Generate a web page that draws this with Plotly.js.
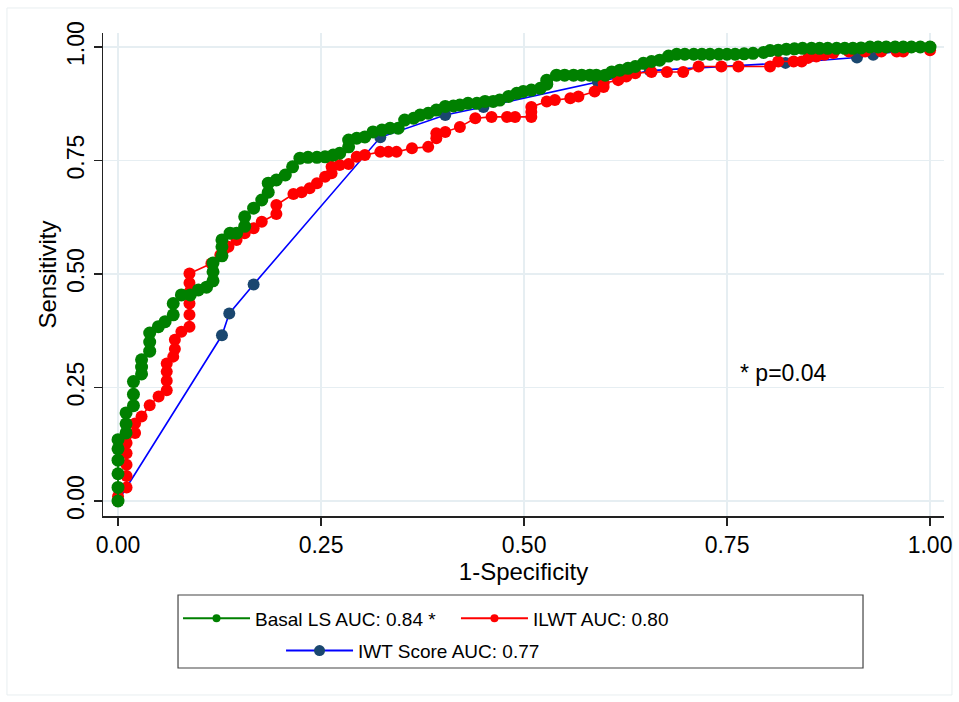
<!DOCTYPE html>
<html><head><meta charset="utf-8">
<script src="https://cdn.plot.ly/plotly-3.0.1.min.js"></script>
<style>html,body{margin:0;padding:0;background:#fff;} #chart{width:959px;height:702px;}</style>
</head><body><div id="chart"></div>
<script>
// Basal LS (green)
const basalX = [0,0,0,0,0,0,0.0099,0.0099,0.0099,0.019,0.019,0.019,0.029,0.029,0.029,0.039,0.039,0.039,0.0497,0.058,0.068,0.068,0.078,0.089,0.099,0.109,0.117,0.117,0.117,0.128,0.128,0.128,0.138,0.146,0.156,0.156,0.167,0.177,0.185,0.185,0.195,0.206,0.215,0.224,0.234,0.245,0.255,0.265,0.273,0.284,0.284,0.294,0.304,0.314,0.325,0.335,0.345,0.353,0.364,0.372,0.382,0.392,0.403,0.413,0.421,0.431,0.442,0.452,0.462,0.47,0.481,0.491,0.499,0.509,0.52,0.528,0.528,0.54,0.55,0.561,0.571,0.581,0.589,0.6,0.608,0.618,0.628,0.637,0.647,0.657,0.667,0.678,0.688,0.698,0.709,0.719,0.729,0.74,0.75,0.76,0.771,0.782,0.795,0.803,0.813,0.823,0.833,0.843,0.854,0.864,0.874,0.885,0.895,0.905,0.915,0.926,0.936,0.946,0.957,0.967,0.977,0.988,1.0];
const basalY = [0,0.03,0.06,0.09,0.115,0.135,0.15,0.17,0.194,0.21,0.235,0.263,0.28,0.295,0.311,0.33,0.35,0.37,0.384,0.395,0.41,0.435,0.454,0.454,0.465,0.471,0.485,0.505,0.524,0.54,0.56,0.575,0.59,0.59,0.605,0.626,0.645,0.663,0.68,0.70,0.707,0.718,0.736,0.755,0.757,0.757,0.758,0.762,0.766,0.78,0.795,0.799,0.802,0.813,0.817,0.821,0.821,0.839,0.843,0.85,0.854,0.861,0.869,0.87,0.872,0.876,0.876,0.88,0.88,0.883,0.891,0.898,0.902,0.905,0.909,0.918,0.927,0.938,0.938,0.938,0.938,0.938,0.938,0.938,0.945,0.949,0.953,0.957,0.964,0.968,0.971,0.98,0.984,0.984,0.984,0.984,0.984,0.984,0.984,0.984,0.985,0.986,0.988,0.992,0.993,0.995,0.996,0.997,0.997,0.997,0.997,0.997,0.997,0.997,0.998,1.0,1.0,1.0,1.0,1.0,1.0,1.0,1.0];
// ILWT (red)
const ilwtX = [0,0,0.0105,0.0105,0.0105,0.0105,0.0105,0.021,0.021,0.029,0.039,0.05,0.06,0.06,0.06,0.06,0.068,0.07,0.07,0.078,0.088,0.088,0.088,0.088,0.088,0.088,0.115,0.126,0.13,0.136,0.146,0.156,0.167,0.177,0.195,0.195,0.216,0.226,0.236,0.245,0.255,0.263,0.263,0.273,0.284,0.294,0.304,0.323,0.333,0.343,0.362,0.382,0.392,0.392,0.403,0.421,0.44,0.46,0.479,0.489,0.509,0.509,0.509,0.528,0.538,0.557,0.567,0.587,0.598,0.598,0.616,0.626,0.637,0.657,0.676,0.696,0.715,0.743,0.764,0.803,0.813,0.832,0.842,0.85,0.86,0.87,0.881,0.9,0.92,0.94,0.959,0.967,1.0,1.0];
const ilwtY = [0,0.01,0.03,0.055,0.08,0.105,0.128,0.15,0.171,0.186,0.211,0.23,0.244,0.265,0.285,0.303,0.318,0.335,0.355,0.373,0.384,0.41,0.435,0.46,0.48,0.501,0.523,0.542,0.553,0.56,0.575,0.59,0.601,0.615,0.632,0.652,0.676,0.68,0.689,0.7,0.714,0.722,0.736,0.74,0.742,0.758,0.762,0.769,0.769,0.769,0.777,0.78,0.799,0.81,0.813,0.824,0.843,0.846,0.846,0.846,0.846,0.857,0.868,0.88,0.883,0.887,0.891,0.902,0.912,0.92,0.927,0.935,0.942,0.945,0.945,0.945,0.957,0.957,0.957,0.957,0.968,0.968,0.968,0.976,0.979,0.983,0.987,0.99,0.99,0.99,0.99,0.99,0.993,1.0];
// IWT Score (blue)
const iwtX = [0,0.128,0.137,0.167,0.323,0.403,0.45,0.591,0.655,0.822,0.91,0.93,1];
const iwtY = [0,0.365,0.413,0.477,0.801,0.85,0.868,0.923,0.948,0.965,0.977,0.983,1];

const tickVals = [0,0.25,0.5,0.75,1];
const tickText = ["0.00","0.25","0.50","0.75","1.00"];
const names = ["Basal LS AUC: 0.84 *","ILWT AUC: 0.80","IWT Score AUC: 0.77"];

const GREEN = "#008000", RED = "#ff0000", BLUE = "#0000ff", NAVY = "#1a476f";
const FONT = "Liberation Sans, Arial, Helvetica, sans-serif";

const traces = [
  {x: iwtX, y: iwtY, mode: "lines+markers", line: {color: BLUE, width: 1.6}, marker: {color: NAVY, size: 12}, showlegend: false, hoverinfo: "skip"},
  {x: ilwtX, y: ilwtY, mode: "lines+markers", line: {color: RED, width: 1.6}, marker: {color: RED, size: 12}, showlegend: false, hoverinfo: "skip"},
  {x: basalX, y: basalY, mode: "lines+markers", line: {color: GREEN, width: 1.8}, marker: {color: GREEN, size: 13}, showlegend: false, hoverinfo: "skip"},
  {x: [null], y: [null], name: names[0], mode: "lines+markers", line: {color: GREEN, width: 2}, marker: {color: GREEN, size: 8}, legend: "legend"},
  {x: [null], y: [null], name: names[1], mode: "lines+markers", line: {color: RED, width: 2}, marker: {color: RED, size: 8}, legend: "legend3"},
  {x: [null], y: [null], name: names[2], mode: "lines+markers", line: {color: BLUE, width: 2}, marker: {color: NAVY, size: 11}, legend: "legend2"}
];

const axisCommon = {
  tickvals: tickVals, ticktext: tickText, showgrid: true, gridcolor: "#e6eef2", gridwidth: 1.5,
  zeroline: false, showline: true, linecolor: "#222", linewidth: 1.5,
  ticks: "outside", ticklen: 8, tickwidth: 1.5, tickcolor: "#222",
  tickfont: {family: FONT, size: 23, color: "#000"}
};

const legendCommon = {orientation: "h", xanchor: "left", yanchor: "middle",
  bgcolor: "rgba(0,0,0,0)", borderwidth: 0, itemwidth: 67,
  font: {family: FONT, size: 19, color: "#000"}};

const layout = {
  width: 959, height: 702,
  margin: {l: 103, r: 15, t: 33, b: 186},
  paper_bgcolor: "#fff", plot_bgcolor: "#fff",
  font: {family: FONT, color: "#000"},
  xaxis: Object.assign({}, axisCommon, {range: [-0.0185, 1.0172],
    title: {text: "1-Specificity", font: {family: FONT, size: 24}, standoff: 2}}),
  yaxis: Object.assign({}, axisCommon, {range: [-0.033, 1.0308], tickangle: -90,
    title: {text: "Sensitivity", font: {family: FONT, size: 24}, standoff: 0}}),
  legend: Object.assign({}, legendCommon, {x: 0.0892, y: -0.212}),
  legend3: Object.assign({}, legendCommon, {x: 0.4197, y: -0.212}),
  legend2: Object.assign({}, legendCommon, {x: 0.2117, y: -0.279}),
  annotations: [
    {x: 0.763, y: 0.282, xref: "x", yref: "y", text: "* p=0.04", showarrow: false,
     xanchor: "left", yanchor: "middle", font: {family: FONT, size: 23, color: "#000"}}
  ],
  shapes: [
    {type: "rect", xref: "paper", yref: "paper", x0: 0.0892, x1: 0.9037, y0: -0.1636, y1: -0.3147,
     line: {color: "#444", width: 1.2}, fillcolor: "rgba(0,0,0,0)", layer: "below"},
    {type: "rect", xref: "paper", yref: "paper", x0: -0.1142, x1: 1.0095, y0: 1.0518, y1: -0.3706,
     line: {color: "#e8eef0", width: 1}, fillcolor: "rgba(0,0,0,0)", layer: "below"}
  ]
};

Plotly.newPlot("chart", traces, layout, {staticPlot: true, displayModeBar: false});
</script>
</body></html>
